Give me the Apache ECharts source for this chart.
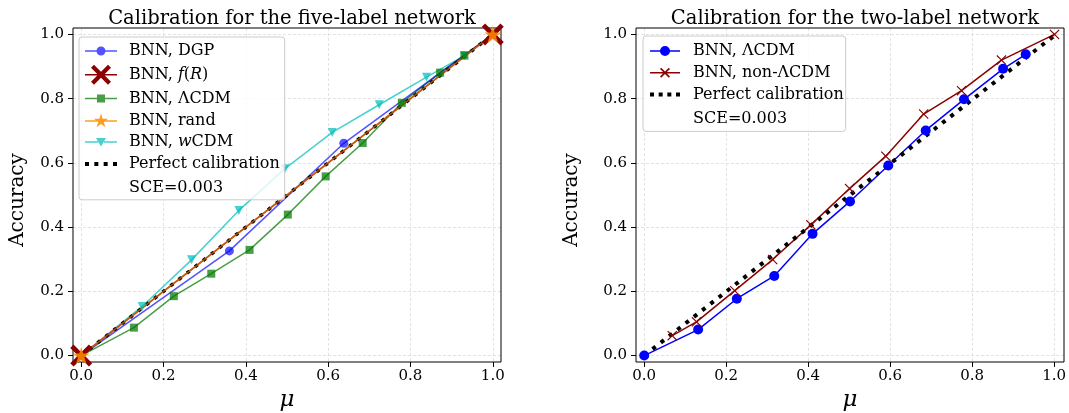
<!DOCTYPE html>
<html>
<head>
<meta charset="utf-8">
<script src="https://cdn.jsdelivr.net/npm/echarts@6/dist/echarts.min.js"></script>
<style>
html,body{margin:0;padding:0;background:#fff;}
#chart{width:1069px;height:413px;}
</style>
</head>
<body>
<div id="chart"></div>
<script>
// ---------- data ----------
// left panel: five-label network
const dgpX  = [0, 0.36, 0.638, 1.0];
const dgpY  = [0, 0.326, 0.661, 1.0];
const frX   = [0, 1.0];
const frY   = [0, 1.0];
const lcdm5X = [0, 0.128, 0.225, 0.316, 0.409, 0.502, 0.594, 0.684, 0.779, 0.872, 0.931, 1.0];
const lcdm5Y = [0, 0.087, 0.185, 0.255, 0.329, 0.439, 0.558, 0.662, 0.787, 0.881, 0.934, 1.0];
const randX = [0, 1.0];
const randY = [0, 1.0];
const wcdmX = [0, 0.148, 0.268, 0.383, 0.495, 0.61, 0.724, 0.839, 0.931, 1.0];
const wcdmY = [0, 0.153, 0.298, 0.452, 0.582, 0.695, 0.781, 0.867, 0.934, 1.0];
const perfectX = [0, 1.0];
const perfectY = [0, 1.0];
// right panel: two-label network
const lcdm2X = [0, 0.131, 0.225, 0.316, 0.409, 0.5, 0.593, 0.684, 0.777, 0.872, 0.927];
const lcdm2Y = [0, 0.081, 0.177, 0.248, 0.379, 0.48, 0.592, 0.701, 0.798, 0.893, 0.938];
const nonX  = [0.068, 0.127, 0.22, 0.312, 0.405, 0.499, 0.587, 0.679, 0.771, 0.868, 0.997];
const nonY  = [0.062, 0.105, 0.202, 0.299, 0.407, 0.52, 0.621, 0.752, 0.825, 0.92, 1.0];
// text
const titles = ['Calibration for the five-label network', 'Calibration for the two-label network'];
const sceText = 'SCE=0.003';
const leftNames  = ['BNN, DGP', 'BNN, f(R)', 'BNN, ΛCDM', 'BNN, rand', 'BNN, wCDM', 'Perfect calibration', sceText];
const rightNames = ['R BNN, ΛCDM', 'R BNN, non-ΛCDM', 'R Perfect calibration', 'R ' + sceText];
const display = {
  'BNN, DGP': 'BNN, DGP',
  'BNN, f(R)': 'BNN, {i|f}({i|R})',
  'BNN, ΛCDM': 'BNN, ΛCDM',
  'BNN, rand': 'BNN, rand',
  'BNN, wCDM': 'BNN, {i|w}CDM',
  'Perfect calibration': 'Perfect calibration',
  'SCE=0.003': 'SCE=0.003',
  'R BNN, ΛCDM': 'BNN, ΛCDM',
  'R BNN, non-ΛCDM': 'BNN, non-ΛCDM',
  'R Perfect calibration': 'Perfect calibration',
  'R SCE=0.003': 'SCE=0.003'
};

function pairs(xs, ys){ return xs.map((x,i)=>[x, ys[i]]); }

const SERIF = '"DejaVu Serif", "Liberation Serif", serif';
const X_BIG = 'path://M0,15 L15,0 L50,35 L85,0 L100,15 L65,50 L100,85 L85,100 L50,65 L15,100 L0,85 L35,50 Z';
const X_THIN = 'path://M0,8 L8,0 L50,42 L92,0 L100,8 L58,50 L100,92 L92,100 L50,58 L8,100 L0,92 L42,50 Z';
const STAR = 'path://M50,0 L61.2,34.5 L97.6,34.5 L68.2,55.9 L79.4,90.5 L50,69.1 L20.6,90.5 L31.8,55.9 L2.4,34.5 L38.8,34.5 Z';

// ---------- legend icons (line + marker, drawn at 1:1 in a 32x20 box) ----------
function bars(w, a, b, t){
  const y0 = 10 - t/2, y1 = 10 + t/2;
  return 'M0,' + y0 + ' H' + a + ' V' + y1 + ' H0 Z M' + b + ',' + y0 + ' H' + w + ' V' + y1 + ' H' + b + ' Z ';
}
function circleIcon(w, r){
  const c = w/2;
  return 'path://' + bars(w, c-r+0.5, c+r-0.5, 1.5) +
    'M' + (c-r) + ',10 A' + r + ',' + r + ' 0 1,1 ' + (c+r) + ',10 A' + r + ',' + r + ' 0 1,1 ' + (c-r) + ',10 Z';
}
function polyIcon(w, pts, scale, size){
  const ox = w/2 - size/2, oy = 10 - size/2;
  const p = pts.map(q => (ox + q[0]*scale).toFixed(2) + ',' + (oy + q[1]*scale).toFixed(2));
  return 'M' + p.join(' L') + ' Z';
}
const X_PTS = [[0,15],[15,0],[50,35],[85,0],[100,15],[65,50],[100,85],[85,100],[50,65],[15,100],[0,85],[35,50]];
const XT_PTS = [[0,12],[12,0],[50,38],[88,0],[100,12],[62,50],[100,88],[88,100],[50,62],[12,100],[0,88],[38,50]];
const STAR_PTS = [[50,0],[61.2,34.5],[97.6,34.5],[68.2,55.9],[79.4,90.5],[50,69.1],[20.6,90.5],[31.8,55.9],[2.4,34.5],[38.8,34.5]];
const TRI_PTS = [[0,10],[100,10],[50,95]];
const SQ_PTS = [[0,0],[100,0],[100,100],[0,100]];
function markerIcon(w, pts, size, gap){
  const s = size/100;
  return 'path://' + bars(w, w/2 - gap, w/2 + gap, 1.5) + polyIcon(w, pts, s, size);
}
function dotsIcon(w, d){
  let p = 'path://';
  const n = 4, step = (w - d) / (n - 1);
  for (let i = 0; i < n; i++) {
    const x = i * step;
    p += 'M' + x.toFixed(2) + ',' + (10 - d/2) + ' H' + (x + d).toFixed(2) + ' V' + (10 + d/2) + ' H' + x.toFixed(2) + ' Z ';
  }
  return p;
}
const icons = {
  'BNN, DGP': circleIcon(32, 4.5),
  'BNN, f(R)': markerIcon(32, X_PTS, 20, 3),
  'BNN, ΛCDM': markerIcon(32, SQ_PTS, 8, 3.5),
  'BNN, rand': markerIcon(32, STAR_PTS, 15, 3),
  'BNN, wCDM': markerIcon(32, TRI_PTS, 10, 3),
  'Perfect calibration': dotsIcon(32, 4),
  'R BNN, ΛCDM': circleIcon(30, 5),
  'R BNN, non-ΛCDM': markerIcon(30, XT_PTS, 10, 1),
  'R Perfect calibration': dotsIcon(30, 4)
};

// ---------- layout ----------
const panels = [{L:73, T:28, W:428, H:334}, {L:636, T:28, W:428, H:334}];
const grids = [], xAxes = [], yAxes = [];
panels.forEach((p, k) => {
  const dx = p.W * 0.02 / 1.04, dy = p.H * 0.02 / 1.04;
  const g0 = grids.length;
  grids.push({left:p.L, top:p.T, width:p.W, height:p.H, show:true, borderColor:'#000', borderWidth:1, backgroundColor:'rgba(0,0,0,0)', z:3});
  grids.push({left:p.L+dx, top:p.T, width:p.W-2*dx, height:p.H});
  grids.push({left:p.L, top:p.T+dy, width:p.W, height:p.H-2*dy});
  const tickAxis = {
    min:0, max:1, interval:0.2,
    axisLine:{show:false},
    axisTick:{show:true, length:5, lineStyle:{color:'#000', width:1}},
    axisLabel:{show:true, fontFamily:SERIF, fontSize:15, color:'#000', formatter:v=>v.toFixed(1)},
    splitLine:{show:true, lineStyle:{color:'#dcdcdc', width:0.8, type:[3,2]}}
  };
  xAxes.push({type:'value', gridIndex:g0, min:-0.02, max:1.02, show:false});
  xAxes.push(Object.assign({type:'value', gridIndex:g0+1, position:'bottom'}, tickAxis, {axisLabel:Object.assign({}, tickAxis.axisLabel, {margin:7})}));
  xAxes.push({type:'value', gridIndex:g0+2, min:0, max:1, show:false});
  yAxes.push({type:'value', gridIndex:g0, min:-0.02, max:1.02, show:false});
  yAxes.push({type:'value', gridIndex:g0+1, min:0, max:1, show:false});
  yAxes.push(Object.assign({type:'value', gridIndex:g0+2, position:'left'}, tickAxis, {axisLabel:Object.assign({}, tickAxis.axisLabel, {margin:9})}));
});

function lineSeries(name, panel, xs, ys, color, symbol, size, extra){
  return Object.assign({
    type:'line', name:name, xAxisIndex:panel*3, yAxisIndex:panel*3,
    data:pairs(xs, ys), symbol:symbol, symbolSize:size, showSymbol:true,
    lineStyle:{color:color, width:1.5}, itemStyle:{color:color, borderWidth:0},
    clip:true, silent:true, z:4
  }, extra || {});
}

const series = [
  lineSeries('BNN, wCDM', 0, wcdmX, wcdmY, 'rgba(0,190,190,0.72)', 'triangle', 9, {symbolRotate:180}),
  lineSeries('BNN, ΛCDM', 0, lcdm5X, lcdm5Y, 'rgba(0,120,0,0.72)', 'rect', 8),
  lineSeries('BNN, DGP', 0, dgpX, dgpY, 'rgba(0,0,255,0.68)', 'circle', 9),
  lineSeries('BNN, f(R)', 0, frX, frY, '#8b0000', X_BIG, 22),
  lineSeries('Perfect calibration', 0, perfectX, perfectY, '#000', 'none', 0, {lineStyle:{color:'#000', width:3.5, type:[3.5,6.8]}, itemStyle:{color:'#000', borderWidth:0}}),
  lineSeries('BNN, rand', 0, randX, randY, 'rgba(255,140,0,0.6)', STAR, 17, {itemStyle:{color:'rgba(255,140,0,0.85)', borderWidth:0}}),
  {type:'line', name:sceText, xAxisIndex:0, yAxisIndex:0, data:[], symbol:'none', lineStyle:{width:0}},
  lineSeries('R BNN, ΛCDM', 1, lcdm2X, lcdm2Y, '#0000ff', 'circle', 10),
  lineSeries('R BNN, non-ΛCDM', 1, nonX, nonY, '#8b0000', X_THIN, 10),
  lineSeries('R Perfect calibration', 1, perfectX, perfectY, '#000', 'none', 0, {lineStyle:{color:'#000', width:4, type:[4,6.5]}, itemStyle:{color:'#000', borderWidth:0}}),
  {type:'line', name:'R ' + sceText, xAxisIndex:3, yAxisIndex:3, data:[], symbol:'none', lineStyle:{width:0}}
];

const legendText = {
  fontFamily:SERIF, fontSize:16, color:'#000', lineHeight:16,
  rich:{i:{fontFamily:SERIF, fontSize:16, fontStyle:'italic', color:'#000'}}
};
function legendCfg(names, left, top, padding, itemWidth, gapPad){
  return {
    orient:'vertical', left:left, top:top, padding:padding,
    itemWidth:itemWidth, itemHeight:20, itemGap:5.8, selectedMode:false,
    symbolKeepAspect:true,
    itemStyle:{borderWidth:0},
    backgroundColor:'rgba(255,255,255,0.8)', borderColor:'#cccccc', borderWidth:1, borderRadius:3,
    data:names.map(n => n.endsWith(sceText) ? {name:n, icon:'none'} : {name:n, icon:icons[n]}),
    formatter:n => display[n],
    textStyle:Object.assign({}, legendText, {padding:[0,0,0,gapPad]}),
    z:10
  };
}

const option = {
  animation:false,
  backgroundColor:'#fff',
  title:[
    {text:titles[0], left:287, top:4, textAlign:'center', textStyle:{fontFamily:SERIF, fontSize:19.5, fontWeight:'normal', color:'#000'}},
    {text:titles[1], left:850, top:4, textAlign:'center', textStyle:{fontFamily:SERIF, fontSize:19.5, fontWeight:'normal', color:'#000'}}
  ],
  grid:grids, xAxis:xAxes, yAxis:yAxes,
  legend:[
    legendCfg(leftNames, 79, 37, [6,5,4,6], 32, 7),
    legendCfg(rightNames, 643, 36, [7,2,5,7], 30, 8)
  ],
  graphic:[
    {type:'text', x:18, y:200, rotation:Math.PI/2, style:{text:'Accuracy', fontFamily:SERIF, fontSize:20, fill:'#000', align:'center', verticalAlign:'middle'}},
    {type:'text', x:572, y:200, rotation:Math.PI/2, style:{text:'Accuracy', fontFamily:SERIF, fontSize:20, fill:'#000', align:'center', verticalAlign:'middle'}},
    {type:'text', x:287, y:400, style:{text:'μ', fontFamily:SERIF, fontSize:23, fontStyle:'italic', fill:'#000', align:'center', verticalAlign:'middle'}},
    {type:'text', x:850, y:400, style:{text:'μ', fontFamily:SERIF, fontSize:23, fontStyle:'italic', fill:'#000', align:'center', verticalAlign:'middle'}}
  ],
  series:series
};

const chart = echarts.init(document.getElementById('chart'), null, {renderer:'canvas'});
chart.setOption(option);
</script>
</body>
</html>
